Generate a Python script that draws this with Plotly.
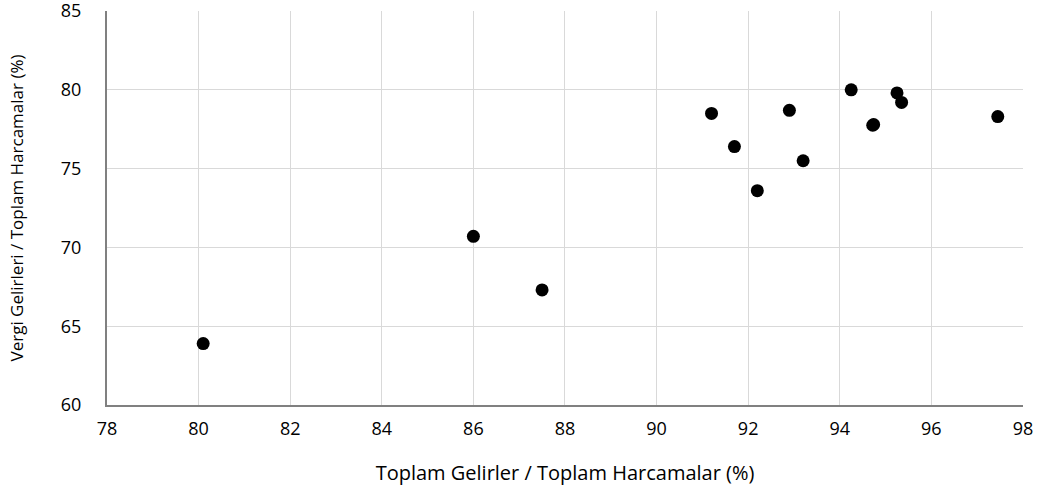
import plotly.graph_objects as go

x_vals = [80.1, 86.0, 87.5, 91.2, 91.7, 92.2, 92.9, 93.2, 94.25, 94.72, 94.74, 95.25, 95.35, 97.45]
y_vals = [63.9, 70.7, 67.3, 78.5, 76.4, 73.6, 78.7, 75.5, 80.0, 77.75, 77.8, 79.8, 79.2, 78.3]

x_ticks = [78, 80, 82, 84, 86, 88, 90, 92, 94, 96, 98]
y_ticks = [60, 65, 70, 75, 80, 85]

fig = go.Figure(go.Scatter(
    x=x_vals, y=y_vals, mode="markers",
    marker=dict(color="black", size=13, line=dict(width=0)),
    showlegend=False,
))

fig.update_layout(
    width=1043, height=489,
    margin=dict(l=107, r=20, t=11, b=84),
    plot_bgcolor="white", paper_bgcolor="white",
    font=dict(family="Open Sans", size=18, color="black"),
    xaxis=dict(
        range=[78, 98.001], tickvals=x_ticks, showgrid=True, gridcolor="#d9d9d9",
        showline=True, linecolor="#808080", linewidth=2, zeroline=False,
        ticks="", tickfont=dict(size=18), automargin=False, ticklabelstandoff=6,
        ticklabeloverflow="allow",
        title=dict(text="Toplam Gelirler / Toplam Harcamalar (%)", font=dict(size=20), standoff=27),
    ),
    yaxis=dict(
        range=[60, 85.001], tickvals=y_ticks, showgrid=True, gridcolor="#d9d9d9",
        showline=True, linecolor="#808080", linewidth=2, zeroline=False,
        ticks="", tickfont=dict(size=18), automargin=False, ticklabelstandoff=20,
        ticklabeloverflow="allow",
        title=dict(text="Vergi Gelirleri / Toplam Harcamalar (%)",
                   font=dict(size=17), standoff=33),
    ),
)

fig.write_html("out.html", config={"displayModeBar": False},
               post_script="document.body.style.margin='0';")
